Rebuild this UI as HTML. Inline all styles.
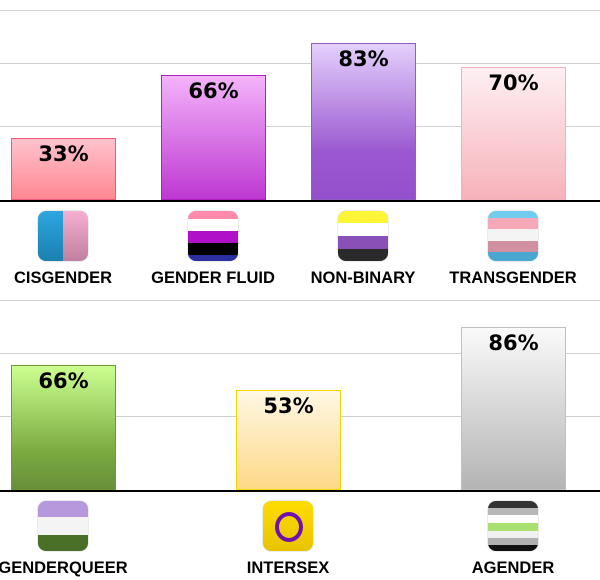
<!DOCTYPE html>
<html><head><meta charset="utf-8"><style>
body{margin:0;width:600px;height:580px;background:#fff;position:relative;overflow:hidden;font-family:"DejaVu Sans","Liberation Sans",sans-serif}
.g{position:absolute;left:0;width:600px;height:1px;background:#d0d0d0}
.base{position:absolute;left:0;width:600px;height:2px;background:#000}
.bar{position:absolute;box-sizing:border-box;border:1px solid;text-align:center;font-weight:bold;font-size:21px;line-height:21px;padding-top:5px;color:#000}
.ic{position:absolute;width:50px;height:50px;border-radius:8px;overflow:hidden;box-shadow:0 0 1px #888}
.ic div{width:100%}
.lb{position:absolute;font-family:"Liberation Sans",sans-serif;font-weight:bold;font-size:16.5px;text-align:center;width:160px;margin-left:-80px;line-height:18px}
</style></head><body>
<div class="g" style="top:10px"></div><div class="g" style="top:63px"></div><div class="g" style="top:126px"></div>
<div class="bar" style="left:11px;top:138px;width:105px;height:62px;border-color:#f05a7a;background:linear-gradient(#ffc2ce,#ff8892)">33%</div>
<div class="bar" style="left:161px;top:75px;width:105px;height:125px;border-color:#b020c0;background:linear-gradient(#f4b4fa,#bd38d2)">66%</div>
<div class="bar" style="left:311px;top:43px;width:105px;height:157px;border-color:#9060c0;background:linear-gradient(#e4d0fc,#9a58d0 70%,#9450cc)">83%</div>
<div class="bar" style="left:461px;top:67px;width:105px;height:133px;border-color:#f0b0c0;background:linear-gradient(#fdf0f3,#f7b2ba)">70%</div>
<div class="base" style="top:200px"></div>
<div class="ic" style="left:38px;top:211px;display:flex"><div style="width:50%;background:linear-gradient(#2ea6e0,#1a80b0)"></div><div style="width:50%;background:linear-gradient(#f4b0d0,#c080a0)"></div></div>
<div class="ic" style="left:188px;top:211px"><div style="height:8px;background:#ff8aae"></div><div style="height:12px;background:#fff"></div><div style="height:12px;background:#b010c8"></div><div style="height:12px;background:#000"></div><div style="height:6px;background:#2a2ea0"></div></div>
<div class="ic" style="left:338px;top:211px"><div style="height:12px;background:#fcf434"></div><div style="height:13px;background:#fff"></div><div style="height:13px;background:#8a50b8"></div><div style="height:12px;background:#2a2a2a"></div></div>
<div class="ic" style="left:488px;top:211px"><div style="height:7px;background:#70cdf0"></div><div style="height:11px;background:#f4a8b8"></div><div style="height:12px;background:#f4f4f4"></div><div style="height:11px;background:#d090a0"></div><div style="height:9px;background:#4aa8d0"></div></div>
<div class="lb" style="left:63px;top:269px">CISGENDER</div>
<div class="lb" style="left:213px;top:269px">GENDER FLUID</div>
<div class="lb" style="left:363px;top:269px">NON-BINARY</div>
<div class="lb" style="left:513px;top:269px">TRANSGENDER</div>

<div class="g" style="top:300px"></div><div class="g" style="top:353px"></div><div class="g" style="top:416px"></div>
<div class="bar" style="left:11px;top:365px;width:105px;height:125px;border-color:#6a9a3a;background:linear-gradient(#ccff90,#7aaa40 70%,#68903a)">66%</div>
<div class="bar" style="left:236px;top:390px;width:105px;height:100px;border-color:#f5d800;background:linear-gradient(#fff8e4,#fdd888)">53%</div>
<div class="bar" style="left:461px;top:327px;width:105px;height:163px;border-color:#c0c0c0;background:linear-gradient(#fafafa,#b4b4b4)">86%</div>
<div class="base" style="top:490px"></div>
<div class="ic" style="left:38px;top:501px"><div style="height:16px;background:#b898dc"></div><div style="height:18px;background:#f4f4f4"></div><div style="height:16px;background:#4a7028"></div></div>
<div class="ic" style="left:263px;top:501px;background:linear-gradient(#fddc00,#e8c400)"><div style="position:absolute;left:12px;top:11px;width:20px;height:22px;border:4px solid #7010b0;border-radius:50%"></div></div>
<div class="ic" style="left:488px;top:501px"><div style="height:7px;background:#333"></div><div style="height:7px;background:#b8b8b8"></div><div style="height:8px;background:#fff"></div><div style="height:8px;background:#a8e070"></div><div style="height:7px;background:#f0f0f0"></div><div style="height:7px;background:#b0b0b0"></div><div style="height:6px;background:#111"></div></div>
<div class="lb" style="left:63px;top:559px">GENDERQUEER</div>
<div class="lb" style="left:288px;top:559px">INTERSEX</div>
<div class="lb" style="left:513px;top:559px">AGENDER</div>
</body></html>
